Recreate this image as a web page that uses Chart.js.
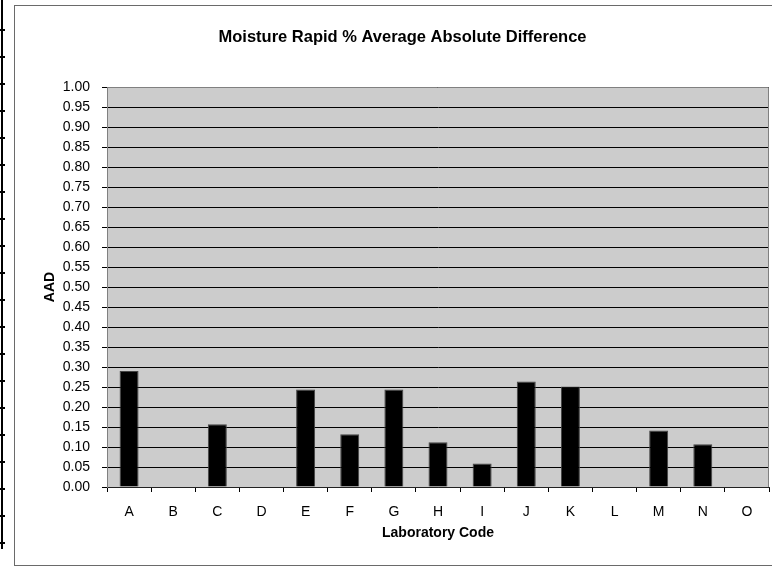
<!DOCTYPE html>
<html>
<head>
<meta charset="utf-8">
<script src="https://cdn.jsdelivr.net/npm/chart.js@4"></script>
<style>
  html, body { margin: 0; padding: 0; background: #fff; overflow: hidden; width: 772px; height: 566px; }
  #strip { position: absolute; left: 1px; top: 0; width: 2px; height: 549px; background: #000; }
  #stripTicks { position: absolute; left: 0; top: 4px; width: 5px; height: 545px;
    background: repeating-linear-gradient(to bottom, transparent 0 25px, #000 25px 27px); }
  #frame { position: absolute; left: 14px; top: 5px; width: 775px; height: 559px; border: 1px solid #6a6a6a; }
  #wrap { position: absolute; left: 0; top: 0; width: 775px; height: 559px; }
</style>
</head>
<body>
<div id="strip"></div>
<div id="stripTicks"></div>
<div id="frame"><div id="wrap"><canvas id="c" width="775" height="559"></canvas></div></div>
<script>
const chartTitle = 'Moisture Rapid % Average Absolute Difference';
const xAxisTitle = 'Laboratory Code';
const yAxisTitle = 'AAD';
const categories = ['A', 'B', 'C', 'D', 'E', 'F', 'G', 'H', 'I', 'J', 'K', 'L', 'M', 'N', 'O'];
const aadValues = [0.29, null, 0.157, null, 0.244, 0.132, 0.244, 0.112, 0.059, 0.264, 0.251, null, 0.141, 0.107, null];
const yMin = 0;
const yMax = 1.0;
const yStep = 0.05;

const FONT = "'Liberation Sans', Arial, sans-serif";

const plotArea = {
  id: 'plotArea',
  beforeDraw(chart) {
    const a = chart.chartArea, ctx = chart.ctx;
    ctx.save();
    ctx.fillStyle = '#cccccc';
    ctx.fillRect(a.left, a.top, a.right - a.left, a.bottom - a.top);
    ctx.restore();
  },
  afterDraw(chart) {
    const a = chart.chartArea, ctx = chart.ctx;
    ctx.save();
    ctx.strokeStyle = '#808080';
    ctx.lineWidth = 1;
    ctx.beginPath();
    ctx.moveTo(a.left, Math.round(a.top) + 0.5);
    ctx.lineTo(Math.round(a.right) - 0.5, Math.round(a.top) + 0.5);
    ctx.lineTo(Math.round(a.right) - 0.5, a.bottom);
    ctx.stroke();
    ctx.restore();
  }
};

new Chart(document.getElementById('c'), {
  type: 'bar',
  data: {
    labels: categories,
    datasets: [{
      label: yAxisTitle,
      data: aadValues,
      backgroundColor: '#000000',
      borderColor: '#444444',
      borderWidth: 1,
      barPercentage: 0.43,
      categoryPercentage: 1.0
    }]
  },
  options: {
    responsive: false,
    animation: false,
    devicePixelRatio: 1,
    layout: { padding: { left: 21, right: 21, top: 0, bottom: 0 } },
    plugins: {
      legend: { display: false },
      tooltip: { enabled: false },
      title: {
        display: true,
        text: chartTitle,
        color: '#000',
        font: { family: FONT, size: 16.5, weight: 'bold', lineHeight: '20px' },
        padding: { top: 21, bottom: 40 }
      }
    },
    scales: {
      x: {
        offset: true,
        grid: { display: true, drawOnChartArea: false, offset: true, tickLength: 5, color: '#000' },
        border: { display: true, color: '#222', width: 1 },
        ticks: { color: '#000', font: { family: FONT, size: 14 }, padding: 12, maxRotation: 0, autoSkip: false },
        title: {
          display: true, text: xAxisTitle, color: '#000',
          font: { family: FONT, size: 14, weight: 'bold' },
          padding: { top: 0, bottom: 23 }
        },
        afterFit(scale) { scale.height = 78; }
      },
      y: {
        min: yMin,
        max: yMax,
        grid: { color: '#000', tickLength: 5, lineWidth: 1 },
        border: { display: true, color: '#808080', width: 1 },
        ticks: {
          stepSize: yStep,
          autoSkip: false,
          color: '#000',
          font: { family: FONT, size: 14 },
          padding: 12,
          callback: (v) => Number(v).toFixed(2)
        },
        title: {
          display: true, text: yAxisTitle, color: '#000',
          font: { family: FONT, size: 14, weight: 'bold' },
          padding: { top: 6, bottom: 0 }
        },
        afterFit(scale) { scale.width = 71; }
      }
    }
  },
  plugins: [plotArea]
});
</script>
</body>
</html>
